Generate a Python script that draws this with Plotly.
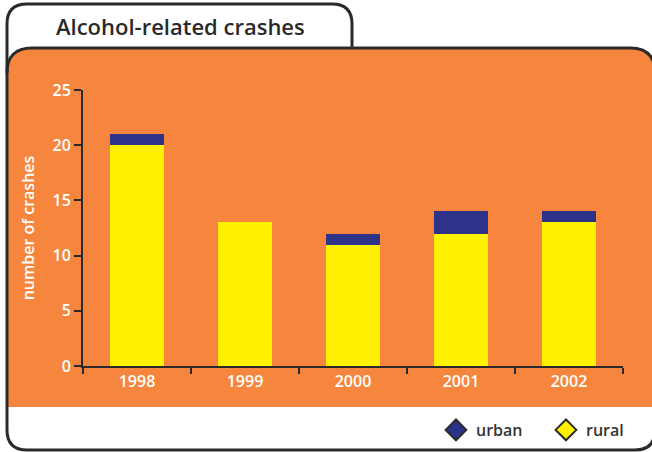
import plotly.graph_objects as go

years = ["1998", "1999", "2000", "2001", "2002"]
rural = [20, 13, 11, 12, 13]
urban = [1, 0, 1, 2, 1]
y_ticks = [0, 5, 10, 15, 20, 25]

W, H = 652, 452
L, R, T, B = 83, 29, 90, 86
PW, PH = W - L - R, H - T - B

ORANGE = "#F6863D"
YELLOW = "#FFF200"
NAVY = "#2E338A"
DARK = "#2A2A2A"
FONT = "Open Sans"


def px(x):
    return (x - L) / PW


def py(y):
    return (H - B - y) / PH


def path(cmds):
    out = []
    for c in cmds:
        op, pts = c[0], c[1:]
        coords = " ".join(f"{px(pts[i]):.5f},{py(pts[i+1]):.5f}" for i in range(0, len(pts), 2))
        out.append(f"{op}{coords}" if op != "Z" else "Z")
    return " ".join(out)


fig = go.Figure()
fig.add_trace(go.Bar(x=years, y=rural, name="rural", marker=dict(color=YELLOW, line=dict(width=0)),
                     width=0.5, showlegend=False))
fig.add_trace(go.Bar(x=years, y=urban, name="urban", marker=dict(color=NAVY, line=dict(width=0)),
                     width=0.5, showlegend=False))
# legend entries (diamonds)
fig.add_trace(go.Scatter(x=[None], y=[None], mode="markers", name="urban",
                         marker=dict(symbol="diamond", size=16, color=NAVY, line=dict(color=DARK, width=2))))
fig.add_trace(go.Scatter(x=[None], y=[None], mode="markers", name="rural",
                         marker=dict(symbol="diamond", size=16, color=YELLOW, line=dict(color=DARK, width=2))))

shapes = []
# orange panel fill
shapes.append(dict(type="path", xref="paper", yref="paper", layer="below",
                   path=path([("M", 7, 407), ("L", 7, 73), ("Q", 7, 48, 32, 48), ("L", 630, 48),
                              ("Q", 655, 48, 655, 73), ("L", 655, 407), ("Z",)]),
                   fillcolor=ORANGE, line=dict(width=0)))
# orange top border
shapes.append(dict(type="path", xref="paper", yref="paper", layer="below",
                   path=path([("M", 7, 73), ("Q", 7, 48, 32, 48), ("L", 630, 48),
                              ("Q", 655, 48, 655, 73)]),
                   line=dict(color=DARK, width=3)))
# outer box + title tab
shapes.append(dict(type="path", xref="paper", yref="paper", layer="below",
                   path=path([("M", 352, 48), ("L", 352, 24), ("Q", 352, 4, 332, 4), ("L", 27, 4),
                              ("Q", 7, 4, 7, 24), ("L", 7, 430), ("Q", 7, 450, 27, 450),
                              ("L", 635, 450), ("Q", 655, 450, 655, 430), ("L", 655, 407)]),
                   line=dict(color=DARK, width=3)))

fig.update_layout(
    width=W, height=H,
    margin=dict(l=L, r=R, t=T, b=B, pad=0, autoexpand=False),
    paper_bgcolor="white",
    plot_bgcolor="rgba(0,0,0,0)",
    barmode="stack",
    font=dict(family=FONT, size=16, color="white", weight=600),
    shapes=shapes,
    showlegend=True,
    legend=dict(orientation="h", x=px(436), xanchor="left", y=py(430), yanchor="middle",
                traceorder="normal",
                font=dict(family=FONT, size=16, color="#333333", weight=600), bgcolor="rgba(0,0,0,0)",
                itemclick=False, entrywidth=65),
    annotations=[dict(text="Alcohol-related crashes", xref="paper", yref="paper",
                      x=px(180), y=py(26), xanchor="center", yanchor="middle", showarrow=False,
                      font=dict(family=FONT, size=22, color=DARK, weight=600))],
)
fig.update_xaxes(type="category", showline=True, linecolor=DARK, linewidth=2, ticks="outside",
                 tickson="boundaries", ticklen=6, tickwidth=2, tickcolor=DARK, showgrid=False,
                 automargin=False,
                 tickfont=dict(family=FONT, size=16, color="white", weight=600), fixedrange=True)
fig.update_yaxes(range=[0, 25], tickvals=y_ticks, showline=True, linecolor=DARK, linewidth=2,
                 ticks="outside", ticklen=7, tickwidth=2, tickcolor=DARK, showgrid=False, zeroline=False,
                 automargin=False,
                 tickfont=dict(family=FONT, size=16, color="white", weight=600),
                 title=dict(text="number of crashes", font=dict(family=FONT, size=16, color="white", weight=600),
                            standoff=14), fixedrange=True)

fig.write_html("out.html", config={"displayModeBar": False},
               post_script="document.body.style.margin='0';")
